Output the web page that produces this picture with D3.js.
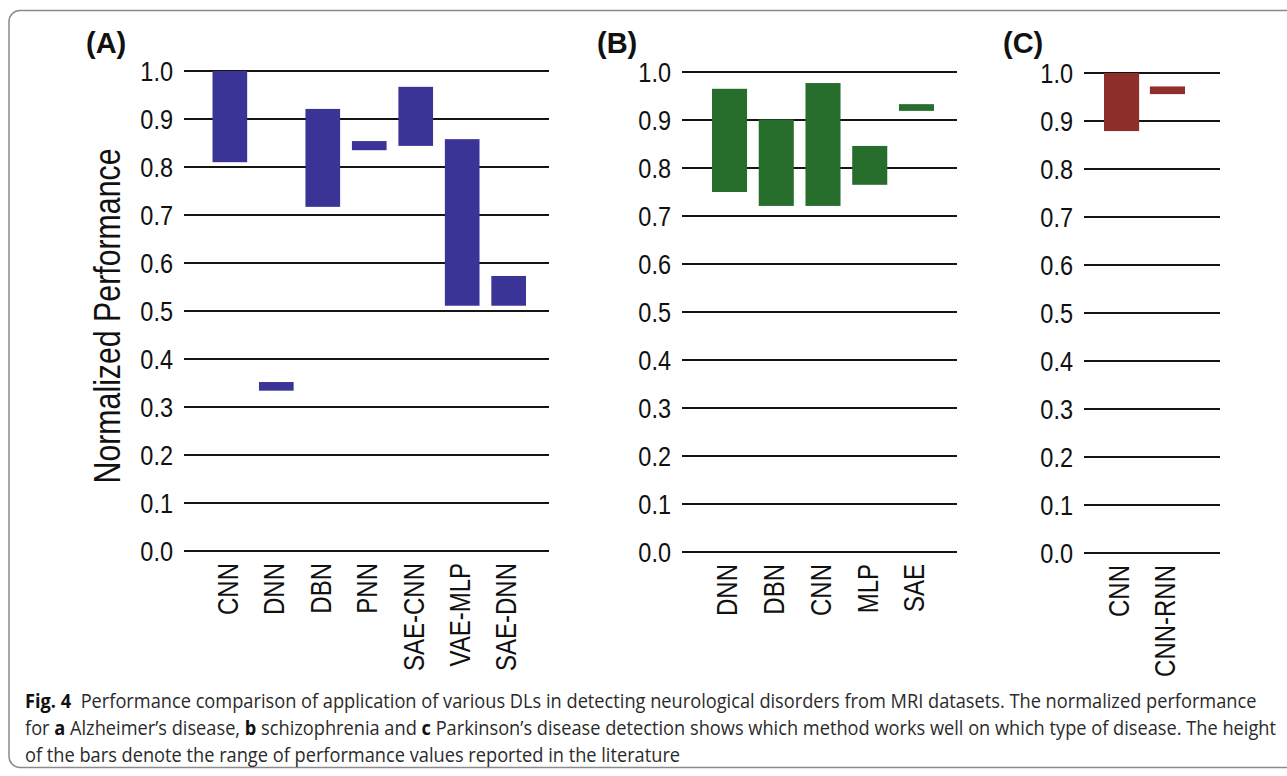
<!DOCTYPE html>
<html>
<head>
<meta charset="utf-8">
<script src="https://cdn.jsdelivr.net/npm/d3@7"></script>
<style>
  html, body { margin: 0; padding: 0; background: #fff; }
  svg { display: block; }
</style>
</head>
<body>
<div id="root"></div>
<script>
const width = 1287
const height = 776

// values: each bar spans [low, high]
const catsA = ['CNN', 'DNN', 'DBN', 'PNN', 'SAE-CNN', 'VAE-MLP', 'SAE-DNN']
const lowA = [0.81, 0.334, 0.717, 0.835, 0.844, 0.511, 0.511]
const highA = [1.0, 0.352, 0.921, 0.854, 0.967, 0.858, 0.573]

const catsB = ['DNN', 'DBN', 'CNN', 'MLP', 'SAE']
const lowB = [0.75, 0.721, 0.721, 0.765, 0.919]
const highB = [0.965, 0.901, 0.977, 0.846, 0.933]

const catsC = ['CNN', 'CNN-RNN']
const lowC = [0.879, 0.956]
const highC = [1.0, 0.972]

const yTicks = [0, 0.1, 0.2, 0.3, 0.4, 0.5, 0.6, 0.7, 0.8, 0.9, 1.0]

const captionLines = [
  [['Fig. 4', true], ['  Performance comparison of application of various DLs in detecting neurological disorders from MRI datasets. The normalized performance', false]],
  [['for ', false], ['a', true], [' Alzheimer’s disease, ', false], ['b', true], [' schizophrenia and ', false], ['c', true],
    [' Parkinson’s disease detection shows which method works well on which type of disease. The height', false]],
  [['of the bars denote the range of performance values reported in the literature', false]],
]

const panels = [
  { label: '(A)', cats: catsA, low: lowA, high: highA, color: '#3a3497',
    gridX: [184, 549], bandX: [212.5, 526], pad: 0.254, y0: 551, y1: 71, labelX: 86, title: 'Normalized Performance' },
  { label: '(B)', cats: catsB, low: lowB, high: highB, color: '#276e2d',
    gridX: [682, 957], bandX: [712, 934], pad: 0.25, y0: 552, y1: 72, labelX: 597 },
  { label: '(C)', cats: catsC, low: lowC, high: highC, color: '#8f2f2c',
    gridX: [1084, 1220], bandX: [1104, 1185], pad: 0.234, y0: 553, y1: 73, labelX: 1003 },
]

const font = '"Liberation Sans", Arial, sans-serif'

const svg = d3.select('#root').append('svg').attr('width', width).attr('height', height)

// frame around the figure (open to the right)
svg.append('rect')
  .attr('x', 9).attr('y', 10.5)
  .attr('width', 1320).attr('height', 757)
  .attr('rx', 11)
  .attr('fill', 'none')
  .attr('stroke', '#8a8a8a')
  .attr('stroke-width', 1.5)

for (const p of panels) {
  const g = svg.append('g')
  const y = d3.scaleLinear().domain([0, 1]).range([p.y0, p.y1])
  const x = d3.scaleBand().domain(p.cats).range(p.bandX).paddingInner(p.pad).paddingOuter(0)

  // horizontal grid lines
  g.append('g')
    .selectAll('line')
    .data(yTicks)
    .join('line')
    .attr('x1', p.gridX[0])
    .attr('x2', p.gridX[1])
    .attr('y1', (d) => y(d))
    .attr('y2', (d) => y(d))
    .attr('stroke', '#141414')
    .attr('stroke-width', 2.2)

  // tick labels, condensed
  g.append('g')
    .selectAll('text')
    .data(yTicks)
    .join('text')
    .attr('transform', (d) => `translate(${p.gridX[0] - 11}, ${y(d)}) scale(0.87, 1)`)
    .attr('dy', '0.36em')
    .attr('text-anchor', 'end')
    .attr('font-family', font)
    .attr('font-size', 27)
    .attr('fill', '#111')
    .text((d) => d.toFixed(1))

  // range bars
  g.append('g')
    .selectAll('rect')
    .data(p.cats)
    .join('rect')
    .attr('x', (d) => x(d))
    .attr('width', x.bandwidth())
    .attr('y', (d, i) => y(p.high[i]))
    .attr('height', (d, i) => y(p.low[i]) - y(p.high[i]))
    .attr('fill', p.color)

  // category labels, rotated
  g.append('g')
    .selectAll('text')
    .data(p.cats)
    .join('text')
    .attr('transform', (d) => `translate(${x(d) + x.bandwidth() / 2 - 3}, ${p.y0 + 12}) rotate(-90) scale(0.8, 1)`)
    .attr('dy', '0.36em')
    .attr('text-anchor', 'end')
    .attr('font-family', font)
    .attr('font-size', 30)
    .attr('fill', '#111')
    .text((d) => d)

  // panel letter
  g.append('text')
    .attr('x', p.labelX)
    .attr('y', 53)
    .attr('font-family', font)
    .attr('font-weight', 'bold')
    .attr('font-size', 29)
    .attr('fill', '#111')
    .text(p.label)

  if (p.title) {
    g.append('text')
      .attr('transform', `translate(120, 316) rotate(-90) scale(0.83, 1)`)
      .attr('text-anchor', 'middle')
      .attr('font-family', font)
      .attr('font-size', 36.5)
      .attr('fill', '#111')
      .text(p.title)
  }
}

// caption
const cap = svg.append('g')
const capLines = cap
  .selectAll('text')
  .data(captionLines)
  .join('text')
  .attr('x', 0)
  .attr('y', 0)
  .attr('font-family', '"Open Sans", "Noto Sans", sans-serif')
  .attr('font-size', 19.5)
  .attr('fill', '#2a2a2a')

capLines
  .selectAll('tspan')
  .data((d) => d)
  .join('tspan')
  .attr('font-weight', (d) => (d[1] ? 'bold' : null))
  .attr('fill', (d) => (d[1] ? '#111' : null))
  .style('white-space', 'pre')
  .text((d) => d[0])

// squeeze caption horizontally so the second line ends where the reference does
const natural = capLines.nodes()[1].getComputedTextLength()
const sx = (1277 - 25) / natural
const baselines = [708, 735, 762]
capLines.attr('transform', (d, i) => `translate(25, ${baselines[i]}) scale(${sx}, 1)`)
</script>
</body>
</html>
